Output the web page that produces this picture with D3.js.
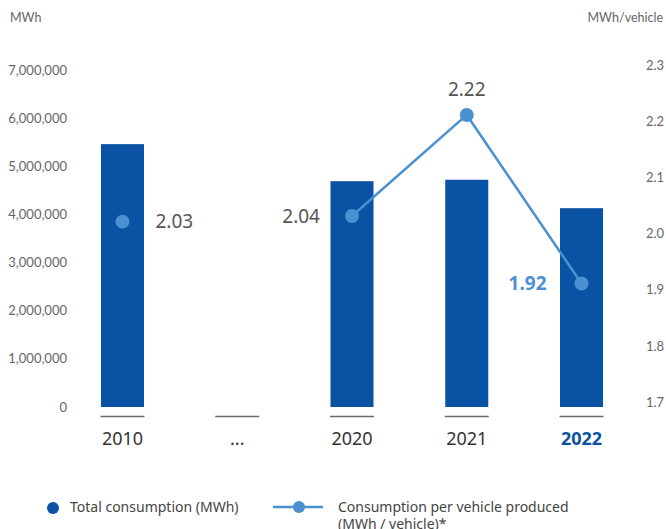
<!DOCTYPE html>
<html>
<head>
<meta charset="utf-8">
<script src="https://cdn.jsdelivr.net/npm/d3@7"></script>
<style>
  html, body { margin: 0; padding: 0; background: #fff; }
  svg { display: block; }
</style>
</head>
<body>
<svg id="chart" width="666" height="529"></svg>
<script>
// ---- data ----
const categories = ["2010", "...", "2020", "2021", "2022"];
const totalConsumption = [5460000, null, 4690000, 4720000, 4130000]; // MWh
const perVehicle = [2.03, null, 2.04, 2.22, 1.92];                    // MWh / vehicle
const leftTicks = [0, 1000000, 2000000, 3000000, 4000000, 5000000, 6000000, 7000000];
const rightTicks = [1.7, 1.8, 1.9, 2.0, 2.1, 2.2, 2.3];
const leftUnit = "MWh";
const rightUnit = "MWh/vehicle";
const legendBar = "Total consumption (MWh)";
const legendLine = ["Consumption per vehicle produced", "(MWh / vehicle)*"];

// ---- style ----
const barColor = "#0a52a3";
const lineColor = "#4b91d1";
const tickFont = "Lato, 'Noto Sans', sans-serif";
const mainFont = "'Noto Sans', 'Open Sans', sans-serif";

const svg = d3.select("#chart");

const x = d3.scaleBand().domain(categories).range([65.1, 638.9])
  .paddingInner(0.625).paddingOuter(0.3125);
const yL = d3.scaleLinear().domain([0, 7000000]).range([407, 70]);
const yR = d3.scaleLinear().domain([1.7, 2.3]).range([407, 70]);
const cx = c => x(c) + x.bandwidth() / 2;

// unit labels
svg.append("text").attr("x", 10).attr("y", 18).attr("dy", "0.35em")
  .attr("font-family", tickFont).attr("font-size", 12.5).attr("fill", "#666")
  .text(leftUnit);
svg.append("text").attr("x", 663).attr("y", 18).attr("dy", "0.35em")
  .attr("text-anchor", "end")
  .attr("font-family", tickFont).attr("font-size", 12.5).attr("fill", "#666")
  .text(rightUnit);

// left axis labels
const fmt = d3.format(",");
svg.append("g").selectAll("text").data(leftTicks).join("text")
  .attr("x", 67).attr("y", d => yL(d)).attr("dy", "0.35em")
  .attr("text-anchor", "end")
  .attr("font-family", tickFont).attr("font-size", 13).attr("fill", "#666")
  .text(d => fmt(d));

// right axis labels
svg.append("g").selectAll("text").data(rightTicks).join("text")
  .attr("x", 646).attr("y", d => yR(d)).attr("dy", "-0.02em")
  .attr("font-family", tickFont).attr("font-size", 13).attr("fill", "#666")
  .text(d => d3.format(".1f")(d));

// bars
const barData = categories.map((c, i) => ({c, v: totalConsumption[i]})).filter(d => d.v != null);
svg.append("g").selectAll("rect").data(barData).join("rect")
  .attr("x", d => x(d.c)).attr("width", x.bandwidth())
  .attr("y", d => yL(d.v)).attr("height", d => yL(0) - yL(d.v))
  .attr("fill", barColor);

// category baselines
svg.append("g").selectAll("line").data(categories).join("line")
  .attr("x1", d => cx(d) - 22).attr("x2", d => cx(d) + 22)
  .attr("y1", 416.5).attr("y2", 416.5)
  .attr("stroke", "#6b6b6b").attr("stroke-width", 1.3);

// category labels
svg.append("g").selectAll("text").data(categories).join("text")
  .attr("x", d => cx(d)).attr("y", 439).attr("dy", "0.35em")
  .attr("text-anchor", "middle")
  .attr("font-family", mainFont).attr("font-size", 18)
  .attr("font-weight", (d, i) => i === categories.length - 1 ? 700 : 400)
  .attr("fill", (d, i) => i === categories.length - 1 ? barColor : "#333")
  .text(d => d);

// line
const lineData = categories.map((c, i) => ({c, v: perVehicle[i], i}));
const line = d3.line().defined(d => d.v != null).x(d => cx(d.c)).y(d => yR(d.v));
svg.append("path").datum(lineData).attr("d", line)
  .attr("fill", "none").attr("stroke", lineColor).attr("stroke-width", 2.5);

const pts = lineData.filter(d => d.v != null);
svg.append("g").selectAll("circle").data(pts).join("circle")
  .attr("cx", d => cx(d.c)).attr("cy", d => yR(d.v)).attr("r", 7)
  .attr("fill", lineColor);

// value labels: placement per point
const place = [
  {dx: 33, dy: 0, anchor: "start"},
  null,
  {dx: -32, dy: 0, anchor: "end"},
  {dx: 0, dy: -26, anchor: "middle"},
  {dx: -35, dy: 0, anchor: "end"}
];
svg.append("g").selectAll("text").data(pts).join("text")
  .attr("x", d => cx(d.c) + place[d.i].dx)
  .attr("y", d => yR(d.v) + place[d.i].dy).attr("dy", "0.35em")
  .attr("text-anchor", d => place[d.i].anchor)
  .attr("font-family", mainFont).attr("font-size", 19)
  .attr("font-weight", d => d.i === categories.length - 1 ? 700 : 400)
  .attr("fill", d => d.i === categories.length - 1 ? lineColor : "#555")
  .text(d => d3.format(".2f")(d.v));

// legend
const lg = svg.append("g");
lg.append("circle").attr("cx", 53).attr("cy", 508).attr("r", 6).attr("fill", barColor);
lg.append("text").attr("x", 70).attr("y", 507).attr("dy", "0.35em")
  .attr("font-family", mainFont).attr("font-size", 14).attr("fill", "#444")
  .text(legendBar);
lg.append("line").attr("x1", 273).attr("x2", 323).attr("y1", 507).attr("y2", 507)
  .attr("stroke", lineColor).attr("stroke-width", 2.5);
lg.append("circle").attr("cx", 299).attr("cy", 507).attr("r", 6).attr("fill", lineColor);
lg.append("g").selectAll("text").data(legendLine).join("text")
  .attr("x", 338).attr("y", (d, i) => 507 + i * 17).attr("dy", "0.35em")
  .attr("font-family", mainFont).attr("font-size", 14).attr("fill", "#444")
  .text(d => d);
</script>
</body>
</html>
